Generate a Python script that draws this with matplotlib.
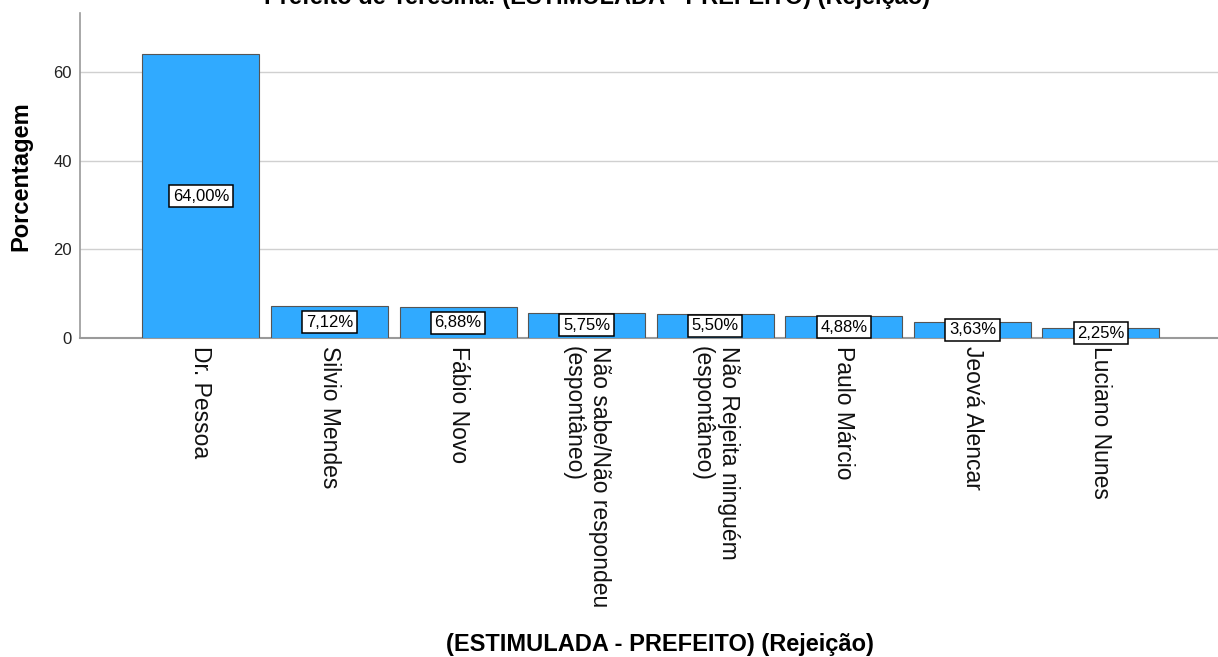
import matplotlib
matplotlib.use("Agg")
import matplotlib.pyplot as plt
import numpy as np

categories = ["Dr. Pessoa", "Silvio Mendes", "Fábio Novo",
              "Não sabe/Não respondeu\n(espontâneo)",
              "Não Rejeita ninguém\n(espontâneo)",
              "Paulo Márcio", "Jeová Alencar", "Luciano Nunes"]
values = [64.00, 7.12, 6.88, 5.75, 5.50, 4.88, 3.63, 2.25]
yticks = [0, 20, 40, 60]
title = "Prefeito de Teresina: (ESTIMULADA - PREFEITO) (Rejeição)"
xlabel = "(ESTIMULADA - PREFEITO) (Rejeição)"
ylabel = "Porcentagem"

plt.rcParams['font.family'] = ['Liberation Sans', 'DejaVu Sans']

W, H = 1218, 657
fig = plt.figure(figsize=(W/100, H/100), dpi=100)
ax = fig.add_axes([80/W, (H-338)/H, (1218-80)/W, (338-13)/H])

x = np.arange(len(categories))
ax.bar(x, values, width=0.91, color='#30aaff', edgecolor='#555555', linewidth=0.8, zorder=3)

for xi, v in zip(x, values):
    ax.text(xi, v/2, f"{v:.2f}".replace('.', ',') + "%", ha='center', va='center',
            fontsize=12, zorder=5,
            bbox=dict(boxstyle='square,pad=0.22', fc='white', ec='black', lw=1.1))

ax.set_xlim(-0.94, 7.91)
ax.set_ylim(0, 73.3)
ax.set_yticks(yticks)
ax.set_yticklabels([str(t) for t in yticks], fontsize=12, color='#222222')
ax.set_xticks(x)
ax.set_xticklabels(categories, rotation=270, fontsize=16.5, ha='center', va='top',
                   multialignment='left', color='#111111')
ax.tick_params(axis='both', length=0)
ax.tick_params(axis='x', pad=6)
ax.tick_params(axis='y', pad=6)
ax.grid(axis='y', color='#d0d0d0', linewidth=1, zorder=0)
for s in ['top', 'right']:
    ax.spines[s].set_visible(False)
ax.spines['left'].set_color('#9a9a9a')
ax.spines['bottom'].set_color('#9a9a9a')
ax.spines['bottom'].set_linewidth(1.5)
ax.spines['left'].set_linewidth(1.2)

fig.text(21/W, 1 - 176/H, ylabel, rotation=90, ha='center', va='center',
         fontsize=17, fontweight='bold')
fig.text(660/W, 1 - 645/H, xlabel, ha='center', va='center', fontsize=17, fontweight='bold')
fig.text(597/W, 1 - 4/H, title, ha='center', va='baseline', fontsize=17, fontweight='bold')

fig.savefig("out.png", dpi=100)
